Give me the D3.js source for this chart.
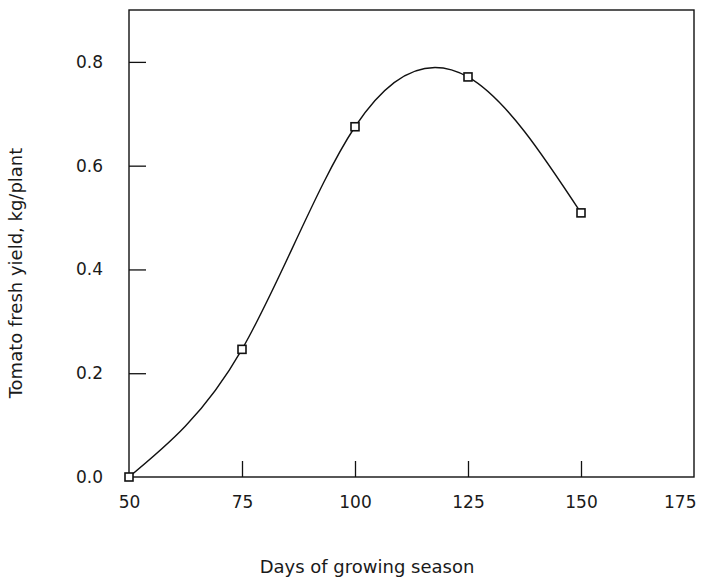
<!DOCTYPE html>
<html>
<head>
<meta charset="utf-8">
<script src="https://cdn.jsdelivr.net/npm/d3@7"></script>
<style>
  body { margin: 0; background: #fff; }
  svg { display: block; }
  text { font-family: "DejaVu Sans", sans-serif; fill: #1a1a1a; }
</style>
</head>
<body>
<svg id="chart" width="709" height="583"></svg>
<script>
const days = [50, 75, 100, 125, 150];
const yieldKg = [0.0, 0.246, 0.675, 0.771, 0.509];
const xTicks = [50, 75, 100, 125, 150, 175];
const yTicks = [0.0, 0.2, 0.4, 0.6, 0.8];
const xTitle = "Days of growing season";
const yTitle = "Tomato fresh yield, kg/plant";

const svg = d3.select("#chart");
const plotLeft = 129, plotRight = 694, plotTop = 10, plotBottom = 477;
const FONT = "DejaVu Sans, sans-serif";

const x = d3.scaleLinear().domain([50, 175]).range([plotLeft, plotRight]);
const y = d3.scaleLinear().domain([0, 0.9]).range([plotBottom, plotTop]);

// frame
svg.append("rect")
  .attr("x", plotLeft).attr("y", plotTop)
  .attr("width", plotRight - plotLeft).attr("height", plotBottom - plotTop)
  .attr("fill", "none").attr("stroke", "#111").attr("stroke-width", 1.4);

// x axis
const xAxis = d3.axisBottom(x).tickValues(xTicks).tickSize(-16).tickPadding(19)
  .tickFormat(d3.format("d"));
const gx = svg.append("g").attr("transform", `translate(0,${plotBottom})`).call(xAxis);
gx.select(".domain").remove();
gx.selectAll(".tick line").attr("stroke", "#111").attr("stroke-width", 1.3)
  .filter(d => d === 50 || d === 175).remove();
gx.selectAll(".tick text").attr("font-size", 17).style("font-family", FONT).attr("fill", "#1a1a1a");
gx.selectAll(".tick text").filter(d => d === 175)
  .attr("text-anchor", "end").attr("x", 2);

// y axis
const yAxis = d3.axisLeft(y).tickValues(yTicks).tickSize(-17).tickPadding(26)
  .tickFormat(d3.format(".1f"));
const gy = svg.append("g").attr("transform", `translate(${plotLeft},0)`).call(yAxis);
gy.select(".domain").remove();
gy.selectAll(".tick line").attr("stroke", "#111").attr("stroke-width", 1.3)
  .filter(d => d === 0).remove();
gy.selectAll(".tick text").attr("font-size", 17).style("font-family", FONT).attr("fill", "#1a1a1a");

// curve
const pts = days.map((d, i) => [d, yieldKg[i]]);
const line = d3.line().x(d => x(d[0])).y(d => y(d[1])).curve(d3.curveNatural);
svg.append("path").datum(pts).attr("d", line)
  .attr("fill", "none").attr("stroke", "#111").attr("stroke-width", 1.4);

// markers
svg.selectAll("rect.pt").data(pts).enter().append("rect")
  .attr("class", "pt")
  .attr("x", d => x(d[0]) - 4).attr("y", d => y(d[1]) - 4)
  .attr("width", 8).attr("height", 8)
  .attr("fill", "#fff").attr("stroke", "#111").attr("stroke-width", 1.6);

// titles
svg.append("text").attr("x", 367).attr("y", 573).attr("text-anchor", "middle")
  .attr("font-size", 18).text(xTitle);
svg.append("text").attr("transform", "translate(22,273) rotate(-90)")
  .attr("text-anchor", "middle").attr("font-size", 18).text(yTitle);
</script>
</body>
</html>
